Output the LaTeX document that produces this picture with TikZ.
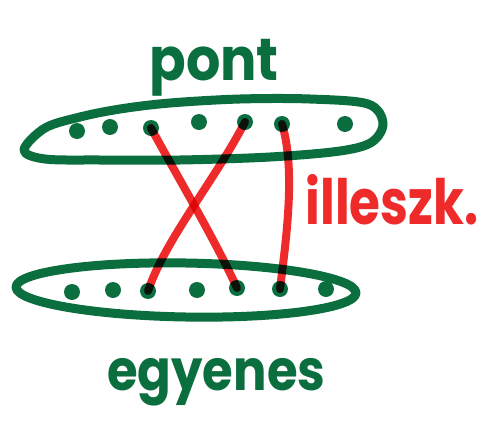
\documentclass[tikz,border=0pt]{standalone}
\usepackage{fontspec}
\setmainfont{Poppins}
\definecolor{mgreen}{HTML}{0B6E3E}
\definecolor{mred}{HTML}{EE2A2A}
\begin{document}
\begin{tikzpicture}[x=1pt,y=-1pt,
  gline/.style={draw=mgreen,line width=9pt,line cap=round,line join=round},
  rline/.style={draw=mred,line width=8pt,line cap=round},
  pt/.style={circle,fill=mgreen,minimum size=16pt,inner sep=0pt},
  gtext/.style={text=mgreen,font=\fontsize{54}{54}\selectfont\bfseries},
  rtext/.style={text=mred,font=\fontsize{50}{50}\selectfont\bfseries}]
\useasboundingbox (0,0) rectangle (483,429);
\fill[white] (0,0) rectangle (483,429);
% top set (pont)
\draw[gline] plot[smooth cycle,tension=0.55] coordinates {(24,150) (45,128) (80,117) (120,109) (170,103) (240,99) (310,99) (368,104) (383,123) (372,142) (340,151) (270,157) (180,160) (100,160) (45,159)};
\node[pt] (t1) at (77,131) {};
\node[pt] (t2) at (110,127) {};
\node[pt] (t3) at (151,128) {};
\node[pt] (t4) at (199,122) {};
\node[pt] (t5) at (245,122) {};
\node[pt] (t6) at (282,124) {};
\node[pt] (t7) at (345,124) {};
% bottom set (egyenes)
\draw[gline] (186,290) ellipse [x radius=170, y radius=27, rotate=-1];
\node[pt] (b1) at (72,292) {};
\node[pt] (b2) at (113,290) {};
\node[pt] (b3) at (148,291) {};
\node[pt] (b4) at (197,290) {};
\node[pt] (b5) at (237,288) {};
\node[pt] (b6) at (280,289) {};
\node[pt] (b7) at (326,289) {};
% incidence lines
\begin{scope}[blend mode=multiply]
\draw[rline] (t3.center) .. controls (185,190) and (215,240) .. (b5.center);
\draw[rline] (t5.center) .. controls (215,180) and (165,240) .. (b3.center);
\draw[rline] (t6.center) .. controls (296,170) and (286,240) .. (b6.center);
\end{scope}
% labels
\node[gtext,anchor=base west,yscale=1.1] (lp) at (146,80) {pont};
\node[gtext,anchor=base west,xscale=0.92,yscale=1.05] (le) at (104,390) {egyenes};
\node[rtext,anchor=base west,yscale=1.25] (li) at (302,224) {illeszk.};
\end{tikzpicture}
\end{document}
